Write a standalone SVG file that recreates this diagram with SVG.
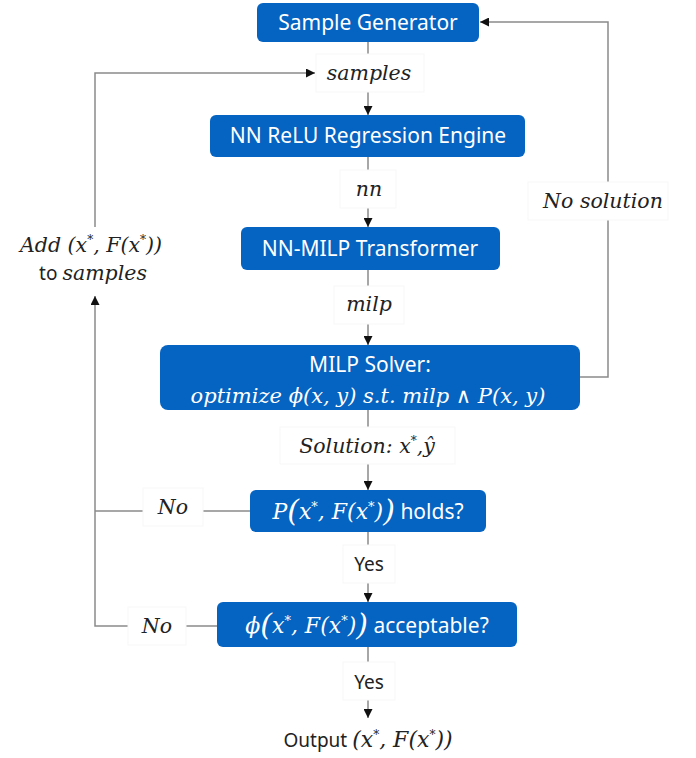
<svg xmlns="http://www.w3.org/2000/svg" width="696" height="758" viewBox="0 0 696 758">
<style>
.box{fill:#0563C1;}
.bt{font-family:"Noto Sans","Open Sans",sans-serif;font-size:21px;fill:#fff;text-anchor:middle;}
.m{font-family:"DejaVu Serif","Liberation Serif",serif;font-style:italic;}
.lt{font-family:"DejaVu Serif","Liberation Serif",serif;font-style:italic;font-size:20.5px;fill:#222;text-anchor:middle;}
.st{font-family:"Noto Sans","Open Sans",sans-serif;font-size:19px;fill:#222;text-anchor:middle;}
.lbg{fill:#fff;stroke:#f7f7f7;stroke-width:1;}
.ln{fill:none;stroke:#8a8a8a;stroke-width:1.5;}
</style>
<defs>
<marker id="ah" viewBox="0 0 10 10" refX="10" refY="5" markerWidth="9" markerHeight="9" markerUnits="userSpaceOnUse" orient="auto">
<path d="M0,0 L10,5 L0,10 z" fill="#111"/>
</marker>
</defs>
<rect width="696" height="758" fill="#fff"/>
<g id="connectors">
<line class="ln" x1="368" y1="42" x2="368" y2="115" marker-end="url(#ah)"/>
<line class="ln" x1="368" y1="157" x2="368" y2="227" marker-end="url(#ah)"/>
<line class="ln" x1="368" y1="270" x2="368" y2="345" marker-end="url(#ah)"/>
<line class="ln" x1="368" y1="410" x2="368" y2="490" marker-end="url(#ah)"/>
<line class="ln" x1="368" y1="532" x2="368" y2="602" marker-end="url(#ah)"/>
<line class="ln" x1="368" y1="647" x2="368" y2="718" marker-end="url(#ah)"/>
<polyline class="ln" points="580,377 608,377 608,22 480,22" marker-end="url(#ah)"/>
<polyline class="ln" points="217,626 95,626 95,296" marker-end="url(#ah)"/>
<line class="ln" x1="250" y1="511" x2="95" y2="511"/>
<polyline class="ln" points="95,227 95,73 315,73" marker-end="url(#ah)"/>
</g>
<g id="label-samples">
<rect class="lbg" x="316" y="54" width="108" height="38"/>
<text class="lt" x="369" y="80">samples</text>
</g>
<g id="label-nn">
<rect class="lbg" x="340" y="170" width="56" height="38"/>
<text class="lt" x="369" y="196">nn</text>
</g>
<g id="label-milp">
<rect class="lbg" x="334" y="286" width="70" height="38"/>
<text class="lt" x="369" y="311">milp</text>
</g>
<g id="label-solution">
<rect class="lbg" x="280" y="427" width="175" height="37"/>
<text class="lt" x="367" y="453">Solution: <tspan>x</tspan><tspan dy="-8" font-size="12">*</tspan><tspan dy="8">,ŷ</tspan></text>
</g>
<g id="label-nosolution">
<rect class="lbg" x="528" y="182" width="140" height="38"/>
<text class="lt" x="603" y="208">No solution</text>
</g>
<g id="label-no1">
<rect class="lbg" x="143" y="488" width="60" height="38"/>
<text class="lt" x="173" y="514">No</text>
</g>
<g id="label-no2">
<rect class="lbg" x="128" y="607" width="58" height="38"/>
<text class="lt" x="157" y="633">No</text>
</g>
<g id="label-yes1">
<rect class="lbg" x="343" y="545" width="52" height="38"/>
<text class="st" x="369" y="571">Yes</text>
</g>
<g id="label-yes2">
<rect class="lbg" x="343" y="662" width="52" height="38"/>
<text class="st" x="369" y="689">Yes</text>
</g>
<g id="label-add">
<text class="lt" x="91" y="252">Add (x<tspan dy="-8" font-size="12">*</tspan><tspan dy="8">, F(x</tspan><tspan dy="-8" font-size="12">*</tspan><tspan dy="8">))</tspan></text>
<text class="st" x="93" y="280">to <tspan class="m" font-size="20.5">samples</tspan></text>
</g>
<g id="node-sample-generator">
<rect class="box" x="257" y="3" width="222" height="39" rx="6"/>
<text class="bt" x="368" y="30">Sample Generator</text>
</g>
<g id="node-nn-relu">
<rect class="box" x="210" y="115" width="315" height="42" rx="6"/>
<text class="bt" x="368" y="143">NN ReLU Regression Engine</text>
</g>
<g id="node-nn-milp">
<rect class="box" x="241" y="227" width="259" height="43" rx="6"/>
<text class="bt" x="370" y="256">NN-MILP Transformer</text>
</g>
<g id="node-milp-solver">
<rect class="box" x="160" y="345" width="420" height="65" rx="8"/>
<text class="bt" x="370" y="372">MILP Solver:</text>
<text class="bt m" x="368" y="403" font-size="23.5">optimize ϕ(x, y) s.t. milp ∧ P(x, y)</text>
</g>
<g id="node-holds">
<rect class="box" x="250" y="490" width="236" height="42" rx="6"/>
<text class="bt" x="368" y="519"><tspan class="m" font-size="22">P</tspan><tspan class="m" font-size="30" dy="2">(</tspan><tspan class="m" font-size="22" dy="-2">x</tspan><tspan class="m" dy="-8" font-size="13">*</tspan><tspan class="m" font-size="22" dy="8">, F(x</tspan><tspan class="m" dy="-8" font-size="13">*</tspan><tspan class="m" font-size="22" dy="8">)</tspan><tspan class="m" font-size="30" dy="2">)</tspan><tspan dy="-2"> holds?</tspan></text>
</g>
<g id="node-acceptable">
<rect class="box" x="217" y="602" width="300" height="45" rx="6"/>
<text class="bt" x="367" y="633"><tspan class="m" font-size="22">ϕ</tspan><tspan class="m" font-size="30" dy="2">(</tspan><tspan class="m" font-size="22" dy="-2">x</tspan><tspan class="m" dy="-8" font-size="13">*</tspan><tspan class="m" font-size="22" dy="8">, F(x</tspan><tspan class="m" dy="-8" font-size="13">*</tspan><tspan class="m" font-size="22" dy="8">)</tspan><tspan class="m" font-size="30" dy="2">)</tspan><tspan dy="-2"> acceptable?</tspan></text>
</g>
<g id="node-output">
<text class="st" x="368" y="747" font-size="21">Output <tspan class="m" font-size="22">(x</tspan><tspan class="m" dy="-8" font-size="12">*</tspan><tspan class="m" font-size="22" dy="8">, F(x</tspan><tspan class="m" dy="-8" font-size="12">*</tspan><tspan class="m" font-size="22" dy="8">))</tspan></text>
</g>
</svg>
